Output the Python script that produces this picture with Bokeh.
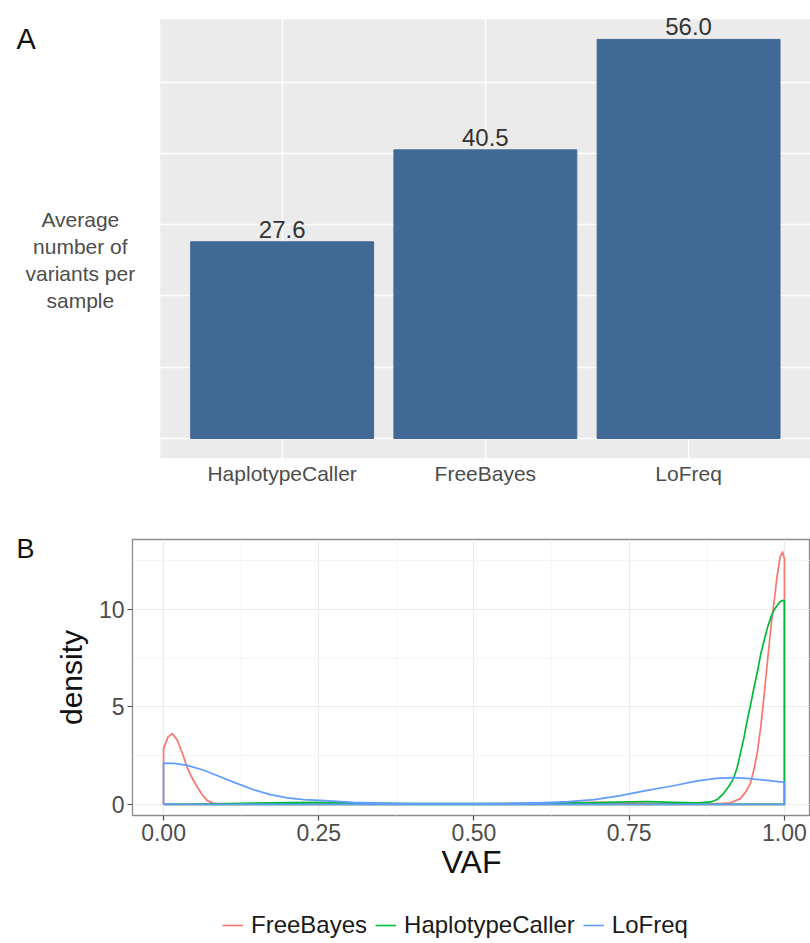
from bokeh.plotting import figure
from bokeh.models import (Range1d, FixedTicker, Label, LabelSet, ColumnDataSource,
                          Legend, LegendItem, NumeralTickFormatter, BoxAnnotation, LinearAxis)
from bokeh.core.properties import value
from bokeh.embed import file_html
from bokeh.resources import INLINE

# ---------------- data ----------------
callers = ["HaplotypeCaller", "FreeBayes", "LoFreq"]
avg_variants = [27.6, 40.5, 56.0]
grid_breaks_a = [0, 10, 20, 30, 40, 50]

fb_vaf = [0, 0.007, 0.014, 0.022, 0.03, 0.038, 0.046, 0.054, 0.062, 0.07, 0.08, 0.09, 0.1,
          0.15, 0.2, 0.25, 0.3, 0.35, 0.4, 0.45, 0.5, 0.55, 0.6, 0.65, 0.7, 0.75, 0.8, 0.85,
          0.88, 0.9, 0.913, 0.929, 0.937, 0.945, 0.951, 0.956, 0.962, 0.967, 0.971, 0.975,
          0.979, 0.983, 0.988, 0.993, 0.997, 1.0]
fb_density = [2.86, 3.45, 3.63, 3.3, 2.65, 1.9, 1.35, 0.9, 0.5, 0.2, 0.06, 0.02, 0.01,
              0.03, 0.06, 0.07, 0.05, 0.03, 0.02, 0.02, 0.02, 0.03, 0.05, 0.08, 0.1, 0.07, 0.04, 0.03,
              0.04, 0.05, 0.08, 0.29, 0.6, 1.06, 1.8, 2.6, 4.0, 5.5, 6.8, 8.08,
              9.3, 10.3, 11.67, 12.7, 12.96, 12.6]

hc_vaf = [0, 0.05, 0.1, 0.15, 0.2, 0.25, 0.3, 0.35, 0.4, 0.45, 0.5, 0.55, 0.6, 0.65, 0.7,
          0.75, 0.78, 0.82, 0.86, 0.881, 0.892, 0.902, 0.91, 0.918, 0.924, 0.929, 0.935, 0.94,
          0.946, 0.951, 0.957, 0.962, 0.968, 0.973, 0.978, 0.983, 0.988, 0.993, 0.997, 1.0]
hc_density = [0.0, 0.01, 0.03, 0.06, 0.09, 0.1, 0.08, 0.05, 0.04, 0.04, 0.03, 0.03, 0.04, 0.06, 0.09,
              0.13, 0.14, 0.1, 0.08, 0.12, 0.25, 0.55, 0.9, 1.32, 1.9, 2.6, 3.45, 4.3,
              5.2, 6.0, 6.9, 7.74, 8.5, 9.1, 9.6, 9.96, 10.2, 10.4, 10.46, 10.48]

lf_vaf = [0, 0.017, 0.038, 0.065, 0.092, 0.119, 0.145, 0.172, 0.199, 0.226, 0.253, 0.28, 0.306,
          0.36, 0.4, 0.45, 0.5, 0.55, 0.6, 0.625, 0.652, 0.694, 0.736, 0.777, 0.819, 0.86, 0.89,
          0.918, 0.945, 0.972, 1.0]
lf_density = [2.12, 2.1, 2.0, 1.75, 1.4, 1.06, 0.75, 0.5, 0.33, 0.24, 0.2, 0.15, 0.1,
              0.05, 0.04, 0.04, 0.03, 0.04, 0.07, 0.1, 0.14, 0.24, 0.45, 0.7, 0.94, 1.2, 1.33,
              1.37, 1.32, 1.23, 1.13]

series_names = ["FreeBayes", "HaplotypeCaller", "LoFreq"]
series_colors = ["#F8766D", "#00BA38", "#619CFF"]
series_vaf = [fb_vaf, hc_vaf, lf_vaf]
series_density = [fb_density, hc_density, lf_density]

vaf_ticks = [0, 0.25, 0.5, 0.75, 1.0]
vaf_minor = [0.125, 0.375, 0.625, 0.875]
density_ticks = [0, 5, 10]
density_minor = [2.5, 7.5, 12.5]

FONT = "Liberation Sans"

# ---------------- panel A ----------------
xpos = list(range(1, len(callers) + 1))
panel_x = (0.4, 3.6)
panel_y = (-2.806, 58.8)
pa = figure(width=810, height=495, output_backend="svg", toolbar_location=None,
            x_range=Range1d(-0.386, 3.6), y_range=Range1d(-2.806, 61.46),
            min_border_left=0, min_border_right=0, min_border_top=0, min_border_bottom=37)
pa.background_fill_color = "white"
pa.border_fill_color = "white"
pa.outline_line_color = None
pa.add_layout(BoxAnnotation(left=panel_x[0], right=panel_x[1], bottom=panel_y[0], top=panel_y[1],
                            fill_color="#ebebeb", fill_alpha=1, line_color=None, level="image"))

src_a = ColumnDataSource(dict(x=xpos, top=avg_variants,
                              lab=["%.1f" % v for v in avg_variants]))
pa.vbar(x="x", top="top", bottom=0, width=0.9, source=src_a,
        fill_color="#406995", line_color="#406995")
pa.add_layout(LabelSet(x="x", y="top", text="lab", source=src_a, y_offset=4,
                       text_align="center", text_baseline="alphabetic",
                       text_font=value(FONT), text_font_size=value("24px"), text_color="#333333"))

pa.xaxis.ticker = FixedTicker(ticks=xpos)
pa.xaxis.major_label_overrides = {x: c for x, c in zip(xpos, callers)}
pa.xaxis.axis_line_color = None
pa.xaxis.major_tick_line_color = None
pa.xaxis.minor_tick_line_color = None
pa.xaxis.major_tick_out = 0
pa.xaxis.major_label_standoff = 3
pa.xaxis.major_label_text_font = FONT
pa.xaxis.major_label_text_font_size = "21px"
pa.xaxis.major_label_text_color = "#4d4d4d"
pa.yaxis.visible = False
pa.xgrid.grid_line_color = "white"
pa.xgrid.grid_line_width = 1.3
pa.ygrid.ticker = FixedTicker(ticks=grid_breaks_a)
pa.ygrid.grid_line_color = "white"
pa.ygrid.grid_line_width = 1.3

pa.add_layout(Label(x=-0.260, y=56.1, text="A", text_align="center", text_baseline="middle",
                    text_font=FONT, text_font_size="29px", text_color="#111111"))
ylab_lines = ["Average", "number of", "variants per", "sample"]
ylab_y = [30.73, 26.94, 23.15, 19.36]
for t, yy in zip(ylab_lines, ylab_y):
    pa.add_layout(Label(x=0.007, y=yy, text=t, text_align="center", text_baseline="middle",
                        text_font=FONT, text_font_size="21px", text_color="#4d4d4d"))

# ---------------- panel B ----------------
pb = figure(width=810, height=395, output_backend="svg", toolbar_location=None,
            x_range=Range1d(-0.05, 1.042), y_range=Range1d(-0.575, 13.6),
            min_border_left=132, min_border_right=0, min_border_top=44, min_border_bottom=75)
pb.background_fill_color = "white"
pb.border_fill_color = "white"
pb.outline_line_color = "#8c8c8c"
pb.outline_line_width = 1.3

for name, col, xs, ds in zip(series_names, series_colors, series_vaf, series_density):
    px = [xs[0]] + list(xs) + [xs[-1], xs[0]]
    py = [0] + list(ds) + [0, 0]
    pb.line(px, py, line_color=col, line_width=1.7, line_join="round")

pb.xaxis.ticker = FixedTicker(ticks=vaf_ticks, minor_ticks=vaf_minor)
pb.xaxis.formatter = NumeralTickFormatter(format="0.00")
pb.yaxis.ticker = FixedTicker(ticks=density_ticks, minor_ticks=density_minor)
for ax in (pb.xaxis, pb.yaxis):
    ax.axis_line_color = None
    ax.major_tick_line_color = "#4d4d4d"
    ax.major_tick_line_width = 1.2
    ax.major_tick_out = 5
    ax.major_tick_in = 0
    ax.minor_tick_line_color = None
    ax.major_label_text_font = FONT
    ax.major_label_text_font_size = "23px"
    ax.major_label_text_color = "#4d4d4d"
    ax.axis_label_text_font = FONT
    ax.axis_label_text_font_style = "normal"
    ax.axis_label_text_color = "#111111"
pb.xaxis.major_label_standoff = 3
pb.yaxis.major_label_standoff = 3
pb.xaxis.axis_label = "VAF"
pb.xaxis.axis_label_text_font_size = "32px"
pb.xaxis.axis_label_standoff = 0
pb.yaxis.axis_label = "density"
pb.yaxis.axis_label_text_font_size = "30px"
pb.yaxis.axis_label_standoff = 8

for g in (pb.xgrid, pb.ygrid):
    g.grid_line_color = "#ebebeb"
    g.grid_line_width = 1.2
    g.minor_grid_line_color = "#f2f2f2"
    g.minor_grid_line_width = 0.8

# panel tag "B": a single hidden tick near the top of an outer left axis
tag_b_y = 13.1
tag_axis = LinearAxis(ticker=FixedTicker(ticks=[tag_b_y]), major_label_overrides={tag_b_y: "B"},
                      major_label_standoff=17, major_label_text_font=FONT,
                      major_label_text_font_size="27px", major_label_text_color="#111111",
                      axis_line_color=None, major_tick_out=0, major_tick_in=0,
                      major_tick_line_color=None, minor_tick_line_color=None)
pb.add_layout(tag_axis, "left")

# ---------------- legend strip ----------------
pc = figure(width=810, height=53, output_backend="svg", toolbar_location=None,
            x_range=Range1d(5, 6), y_range=Range1d(50, 51),
            min_border_left=0, min_border_right=0, min_border_top=0, min_border_bottom=0)
pc.axis.visible = False
pc.grid.visible = False
pc.outline_line_color = None
pc.background_fill_color = "white"
pc.border_fill_color = "white"
proxies = [pc.line(xs, ds, line_color=col, line_width=1.6)
           for col, xs, ds in zip(series_colors, series_vaf, series_density)]
legend = Legend(items=[LegendItem(label=n, renderers=[r]) for n, r in zip(series_names, proxies)],
                orientation="horizontal", location=(222, 4),
                label_text_font=FONT, label_text_font_size="24px", label_text_color="#1a1a1a",
                glyph_width=21, glyph_height=20, label_standoff=8, spacing=8,
                padding=0, margin=0, border_line_color=None, background_fill_alpha=0)
pc.add_layout(legend, "center")

open("out.html", "w").write(file_html([pa, pb, pc], INLINE))
